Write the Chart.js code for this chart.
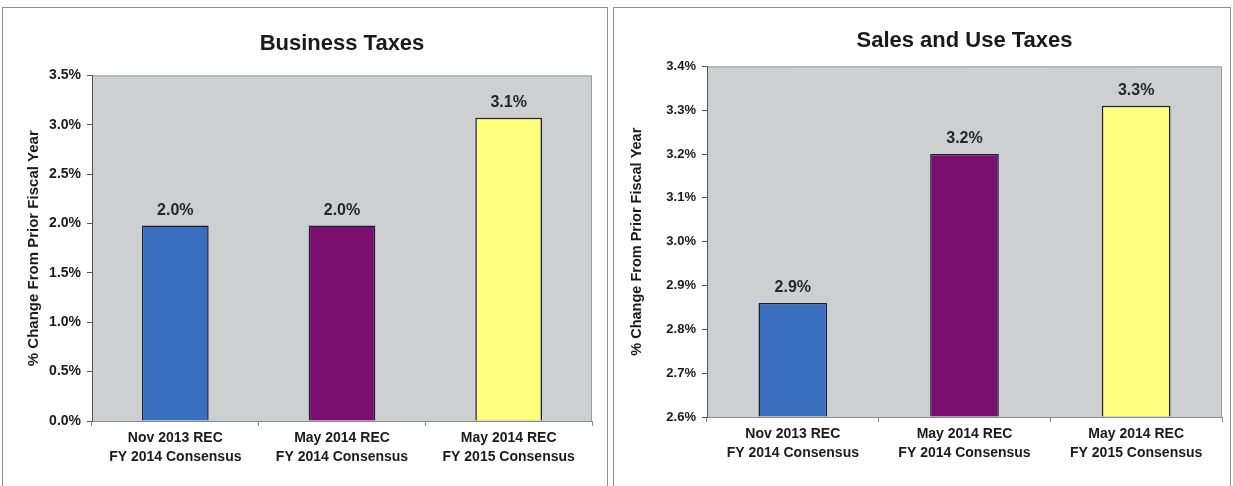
<!DOCTYPE html>
<html>
<head>
<meta charset="utf-8">
<script src="https://cdn.jsdelivr.net/npm/chart.js@4.4.1/dist/chart.umd.min.js"></script>
<style>
  html, body { margin: 0; padding: 0; background: #ffffff; }
  body { width: 1233px; height: 486px; position: relative; overflow: hidden; }
  .panel { position: absolute; border: 1px solid #8f8f8f; border-bottom: none; background: #fff; }
  #p1 { left: 2px; top: 7px; width: 604px; height: 479px; }
  #p2 { left: 613px; top: 7px; width: 616px; height: 479px; }
  canvas { display: block; }
</style>
</head>
<body>
<div class="panel" id="p1"><canvas id="c1" width="604" height="478"></canvas></div>
<div class="panel" id="p2"><canvas id="c2" width="616" height="478"></canvas></div>
<script>
// Category labels (two lines each)
const categories = [
  ['Nov 2013 REC', 'FY 2014 Consensus'],
  ['May 2014 REC', 'FY 2014 Consensus'],
  ['May 2014 REC', 'FY 2015 Consensus']
];
// % change from prior fiscal year
const businessTaxes = [1.98, 1.98, 3.07];
const salesUseTaxes = [2.86, 3.20, 3.31];
const barColors = ['#3a6fc0', '#7a0f6f', '#ffff80'];

const FONT = "'Liberation Sans', Arial, sans-serif";

// plot-area fill and light frame on top/right
const plotBackground = {
  id: 'plotBackground',
  beforeDraw(chart) {
    const { ctx, chartArea: a } = chart;
    ctx.save();
    ctx.fillStyle = '#cdcfd0';
    ctx.fillRect(a.left, a.top, a.right - a.left, a.bottom - a.top);
    ctx.strokeStyle = '#9a9a9a';
    ctx.lineWidth = 1;
    ctx.beginPath();
    ctx.moveTo(a.left, a.top + 0.5);
    ctx.lineTo(a.right - 0.5, a.top + 0.5);
    ctx.lineTo(a.right - 0.5, a.bottom);
    ctx.stroke();
    ctx.restore();
  }
};

// value labels above each bar
const valueLabels = {
  id: 'valueLabels',
  afterDatasetsDraw(chart) {
    const { ctx } = chart;
    const meta = chart.getDatasetMeta(0);
    const data = chart.data.datasets[0].data;
    ctx.save();
    ctx.font = 'bold 16px ' + FONT;
    ctx.fillStyle = '#262626';
    ctx.textAlign = 'center';
    ctx.textBaseline = 'bottom';
    meta.data.forEach((bar, i) => {
      ctx.fillText(data[i].toFixed(1) + '%', bar.x, bar.y - 7);
    });
    ctx.restore();
  }
};

function makeChart(id, title, values, yMin, yMax, step, opts) {
  return new Chart(document.getElementById(id), {
    type: 'bar',
    data: {
      labels: categories,
      datasets: [{
        data: values,
        base: yMin,
        backgroundColor: barColors,
        borderColor: '#1d1f3a',
        borderWidth: 1.5,
        borderSkipped: 'bottom',
        barPercentage: 0.8,
        categoryPercentage: 0.5
      }]
    },
    options: {
      responsive: false,
      animation: false,
      layout: { padding: { left: opts.padLeft, right: opts.padRight, top: 0, bottom: 0 } },
      plugins: {
        legend: { display: false },
        tooltip: { enabled: false },
        title: {
          display: true,
          text: title,
          fullSize: false,
          color: '#1a1a1a',
          font: { family: FONT, size: 22, weight: 'bold' },
          padding: { top: opts.titleTop, bottom: opts.titleBottom }
        }
      },
      scales: {
        x: {
          grid: { display: true, drawOnChartArea: false, offset: true, color: '#8a8a8a', tickLength: 5 },
          border: { color: '#8a8a8a', width: 1 },
          ticks: {
            color: '#1a1a1a',
            font: { family: FONT, size: 14, weight: 'bold', lineHeight: 1.35 },
            padding: 3,
            maxRotation: 0
          },
          afterFit(s) { s.height = opts.xHeight; }
        },
        y: {
          min: yMin,
          max: yMax,
          grid: { display: true, drawOnChartArea: false, color: '#555', tickLength: 5 },
          border: { color: '#555', width: 1 },
          ticks: {
            stepSize: step,
            color: '#1a1a1a',
            padding: 6,
            font: { family: FONT, size: opts.tickSize, weight: 'bold' },
            callback: v => v.toFixed(1) + '%'
          },
          title: {
            display: true,
            text: '% Change From Prior Fiscal Year',
            color: '#1a1a1a',
            font: { family: FONT, size: opts.axisTitleSize, weight: 'bold' },
            padding: { top: 0, bottom: 0 }
          },
          afterFit(s) { s.width = opts.yWidth; }
        }
      }
    },
    plugins: [plotBackground, valueLabels]
  });
}

makeChart('c1', 'Business Taxes', businessTaxes, 0, 3.5, 0.5,
  { padLeft: 22, padRight: 15, yWidth: 67, xHeight: 65, titleTop: 23, titleBottom: 18,
    tickSize: 14, axisTitleSize: 15 });
makeChart('c2', 'Sales and Use Taxes', salesUseTaxes, 2.6, 3.4, 0.1,
  { padLeft: 14, padRight: 8, yWidth: 79, xHeight: 69, titleTop: 20, titleBottom: 12,
    tickSize: 13, axisTitleSize: 14.5 });
</script>
</body>
</html>
